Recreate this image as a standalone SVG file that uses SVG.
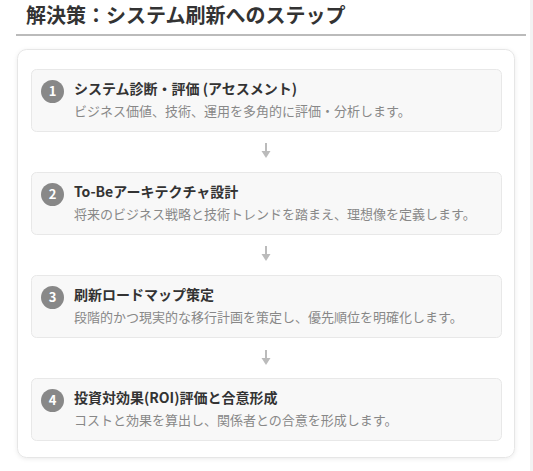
<svg xmlns="http://www.w3.org/2000/svg" width="533" height="471" viewBox="0 0 533 471">
<defs>
<style>
text{font-family:"Noto Sans CJK JP","Noto Sans",sans-serif;}
.h{font-size:20px;font-weight:bold;fill:#333;}
.st{fill:#f8f8f8;stroke:#e8e8e8;stroke-width:1;}
.c{fill:#888;}
.n{font-size:13px;font-weight:bold;fill:#fff;text-anchor:middle;}
.t{font-size:14px;font-weight:bold;fill:#333;}
.d{font-size:13px;fill:#888;}
.a{stroke:#bbb;stroke-width:2;fill:none;}
</style>
<marker id="ah" viewBox="0 0 10 10" refX="5" refY="5" markerWidth="7" markerHeight="7" markerUnits="userSpaceOnUse" orient="auto">
<path d="M0,0 L10,5 L0,10 z" fill="#bbb"/>
</marker>
<filter id="sh" x="-5%" y="-5%" width="110%" height="110%">
<feDropShadow dx="0" dy="1" stdDeviation="2" flood-color="#000" flood-opacity="0.08"/>
</filter>
</defs>
<rect x="0" y="0" width="533" height="471" fill="#fff"/>
<rect x="530" y="0" width="3" height="471" fill="#f3f3f3"/>
<g id="header">
<text class="h" x="26" y="23">解決策：システム刷新へのステップ</text>
<rect x="16" y="34" width="510" height="2" fill="#bbb"/>
</g>
<g id="card">
<rect x="17.5" y="49.5" width="497" height="408" rx="9" fill="#fff" stroke="#e6e6e6" filter="url(#sh)"/>
</g>
<g id="connectors">
<path class="a" d="M266,143 V152" />
<path d="M261.5,151 L270.5,151 L266,158 z" fill="#bbb"/>
<path class="a" d="M266,246 V255" />
<path d="M261.5,254 L270.5,254 L266,261 z" fill="#bbb"/>
<path class="a" d="M266,350 V359" />
<path d="M261.5,358 L270.5,358 L266,365 z" fill="#bbb"/>
</g>
<g id="step1">
<rect class="st" x="31.5" y="69.5" width="470" height="62" rx="5"/>
<circle class="c" cx="52.5" cy="91.5" r="11.5"/>
<text class="n" x="52.5" y="96">1</text>
<text class="t" x="74" y="94">システム診断・評価 (アセスメント)</text>
<text class="d" x="74" y="116">ビジネス価値、技術、運用を多角的に評価・分析します。</text>
</g>
<g id="step2">
<rect class="st" x="31.5" y="172.5" width="470" height="62" rx="5"/>
<circle class="c" cx="52.5" cy="194.5" r="11.5"/>
<text class="n" x="52.5" y="199">2</text>
<text class="t" x="74" y="197">To-Beアーキテクチャ設計</text>
<text class="d" x="74" y="219">将来のビジネス戦略と技術トレンドを踏まえ、理想像を定義します。</text>
</g>
<g id="step3">
<rect class="st" x="31.5" y="275.5" width="470" height="62" rx="5"/>
<circle class="c" cx="52.5" cy="297.5" r="11.5"/>
<text class="n" x="52.5" y="302">3</text>
<text class="t" x="74" y="300">刷新ロードマップ策定</text>
<text class="d" x="74" y="322">段階的かつ現実的な移行計画を策定し、優先順位を明確化します。</text>
</g>
<g id="step4">
<rect class="st" x="31.5" y="378.5" width="470" height="62" rx="5"/>
<circle class="c" cx="52.5" cy="400.5" r="11.5"/>
<text class="n" x="52.5" y="405">4</text>
<text class="t" x="74" y="403">投資対効果(ROI)評価と合意形成</text>
<text class="d" x="74" y="425">コストと効果を算出し、関係者との合意を形成します。</text>
</g>
</svg>
